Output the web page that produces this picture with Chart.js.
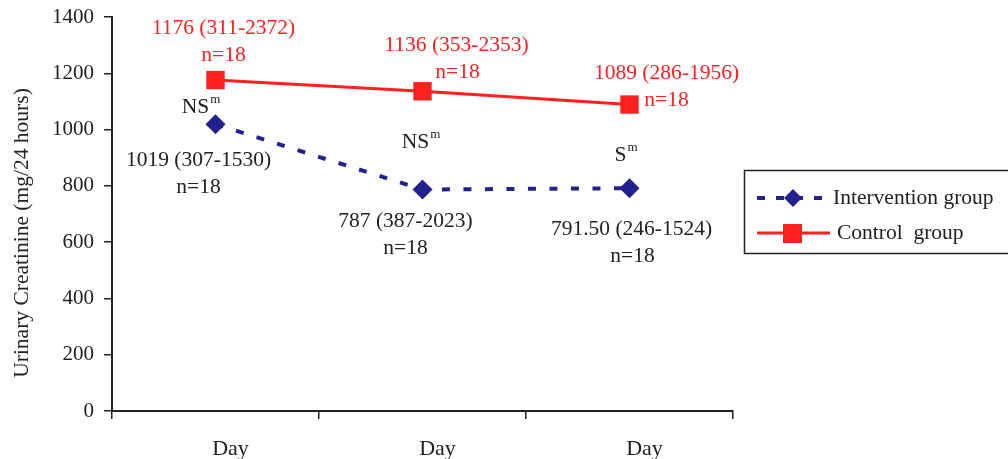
<!DOCTYPE html>
<html>
<head>
<meta charset="utf-8">
<script src="https://cdn.jsdelivr.net/npm/chart.js@4/dist/chart.umd.min.js"></script>
<style>
  html, body { margin: 0; padding: 0; background: #fff; }
  #wrap { width: 1008px; height: 459px; position: relative; }
</style>
</head>
<body>
<div id="wrap"><canvas id="creatChart"></canvas></div>
<script>
const days = ['Day', 'Day', 'Day'];
const interventionValues = [1019, 787, 791.5];
const controlValues = [1176, 1136, 1089];
const interventionLabels = ['1019 (307-1530)', '787 (387-2023)', '791.50 (246-1524)'];
const controlLabels = ['1176 (311-2372)', '1136 (353-2353)', '1089 (286-1956)'];
const sampleSizes = ['n=18', 'n=18', 'n=18'];
const significance = ['NS', 'NS', 'S'];
const yTicks = [0, 200, 400, 600, 800, 1000, 1200, 1400];
const yTitle = 'Urinary Creatinine (mg/24 hours)';

const BLUE = '#22228f';
const RED = '#ff2020';
const TEXT = '#222';
const FONT = '"Liberation Serif", "Times New Roman", serif';
const LABEL_FONT = '21.5px ' + FONT;

// offsets of the annotation text from each point
const controlOffsets = [
  { dx: 8, dy: -52, ndx: 8, ndy: -25 },
  { dx: 34, dy: -46, ndx: 35, ndy: -19 },
  { dx: 37, dy: -31, ndx: 37, ndy: -4 }
];
const interventionOffsets = [
  { sdx: -15, sdy: -17, dx: -17, dy: 36, ndx: -17, ndy: 63 },
  { sdx: -2, sdy: -47, dx: -17, dy: 32, ndx: -17, ndy: 59 },
  { sdx: -4, sdy: -33, dx: 2, dy: 41, ndx: 3, ndy: 68 }
];

const annotations = {
  id: 'annotations',
  afterDatasetsDraw(chart) {
    const ctx = chart.ctx;
    const interMeta = chart.getDatasetMeta(0);
    const ctrlMeta = chart.getDatasetMeta(1);
    ctx.save();
    ctx.font = LABEL_FONT;
    ctx.textAlign = 'center';
    ctx.textBaseline = 'middle';

    ctrlMeta.data.forEach((pt, i) => {
      const o = controlOffsets[i];
      ctx.fillStyle = RED;
      ctx.fillText(controlLabels[i], pt.x + o.dx, pt.y + o.dy);
      ctx.fillText(sampleSizes[i], pt.x + o.ndx, pt.y + o.ndy);
    });

    interMeta.data.forEach((pt, i) => {
      const o = interventionOffsets[i];
      ctx.fillStyle = TEXT;
      ctx.font = LABEL_FONT;
      ctx.textAlign = 'center';
      ctx.fillText(interventionLabels[i], pt.x + o.dx, pt.y + o.dy);
      ctx.fillText(sampleSizes[i], pt.x + o.ndx, pt.y + o.ndy);

      // significance mark with superscript m
      const main = significance[i];
      const mainW = ctx.measureText(main).width;
      ctx.font = '13px ' + FONT;
      const supW = ctx.measureText('m').width;
      const startX = pt.x + o.sdx - (mainW + supW) / 2;
      const y = pt.y + o.sdy;
      ctx.textAlign = 'left';
      ctx.font = LABEL_FONT;
      ctx.fillText(main, startX, y);
      ctx.font = '13px ' + FONT;
      ctx.fillText('m', startX + mainW + 1, y - 8);
    });
    ctx.restore();
  },
  afterDraw(chart) {
    const ctx = chart.ctx;
    ctx.save();

    // y axis title
    ctx.fillStyle = TEXT;
    ctx.font = '21.5px ' + FONT;
    ctx.textAlign = 'center';
    ctx.textBaseline = 'middle';
    ctx.translate(22, 233);
    ctx.rotate(-Math.PI / 2);
    ctx.fillText(yTitle, 0, 0);
    ctx.setTransform(1, 0, 0, 1, 0, 0);

    // legend box
    ctx.strokeStyle = '#222';
    ctx.lineWidth = 1.5;
    ctx.strokeRect(744.5, 170.5, 280, 83);

    // intervention entry
    ctx.strokeStyle = BLUE;
    ctx.lineWidth = 4;
    ctx.setLineDash([8, 11]);
    ctx.beginPath();
    ctx.moveTo(757, 198);
    ctx.lineTo(829, 198);
    ctx.stroke();
    ctx.setLineDash([]);
    ctx.fillStyle = BLUE;
    ctx.beginPath();
    ctx.moveTo(793, 189);
    ctx.lineTo(802, 198);
    ctx.lineTo(793, 207);
    ctx.lineTo(784, 198);
    ctx.closePath();
    ctx.fill();

    // control entry
    ctx.strokeStyle = RED;
    ctx.lineWidth = 3;
    ctx.beginPath();
    ctx.moveTo(757, 233);
    ctx.lineTo(830, 233);
    ctx.stroke();
    ctx.fillStyle = RED;
    ctx.fillRect(783, 224, 19, 19);

    ctx.fillStyle = TEXT;
    ctx.font = LABEL_FONT;
    ctx.textAlign = 'left';
    ctx.textBaseline = 'middle';
    ctx.fillText('Intervention group', 833, 198);
    ctx.fillText('Control  group', 837, 233);
    ctx.restore();
  }
};

new Chart(document.getElementById('creatChart'), {
  type: 'line',
  data: {
    labels: days,
    datasets: [
      {
        label: 'Intervention group',
        data: interventionValues,
        borderColor: BLUE,
        backgroundColor: BLUE,
        borderWidth: 4,
        borderDash: [8, 13.5],
        pointStyle: 'rectRot',
        pointRadius: 10,
        pointBorderWidth: 0,
        tension: 0
      },
      {
        label: 'Control  group',
        data: controlValues,
        borderColor: RED,
        backgroundColor: RED,
        borderWidth: 3,
        pointStyle: 'rect',
        pointRadius: 13,
        pointBorderWidth: 0,
        tension: 0
      }
    ]
  },
  options: {
    responsive: true,
    maintainAspectRatio: false,
    animation: false,
    layout: { padding: { top: 17, right: 275, left: 0, bottom: 0 } },
    plugins: {
      legend: { display: false },
      tooltip: { enabled: false }
    },
    scales: {
      x: {
        offset: true,
        afterFit(scale) { scale.height = 48; },
        border: { display: true, color: '#222', width: 2 },
        grid: { offset: true, drawOnChartArea: false, drawTicks: true, tickLength: 8, color: '#222', lineWidth: 1.5 },
        ticks: { color: TEXT, font: { family: FONT, size: 22 }, padding: 17, labelOffset: 15, maxRotation: 0 }
      },
      y: {
        min: 0,
        max: 1400,
        afterFit(scale) {
          scale.width = 112;
          scale.paddingTop = 0;
          scale.paddingBottom = 0;
        },
        afterBuildTicks(scale) { scale.ticks = yTicks.map((v) => ({ value: v })); },
        border: { display: true, color: '#222', width: 2 },
        grid: { drawOnChartArea: false, drawTicks: true, tickLength: 8, color: '#222', lineWidth: 1.5 },
        ticks: {
          color: TEXT,
          font: { family: FONT, size: 21 },
          padding: 10,
          callback(value) {
            return String(value);
          }
        }
      }
    }
  },
  plugins: [annotations]
});
</script>
</body>
</html>
